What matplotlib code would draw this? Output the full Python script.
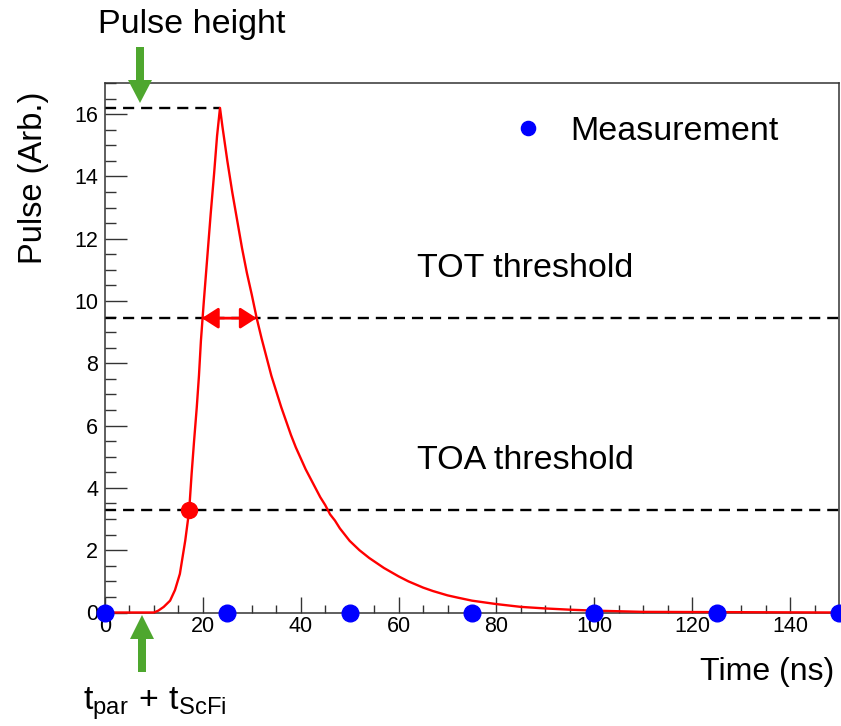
import matplotlib
matplotlib.use('Agg')
import matplotlib.pyplot as plt
from matplotlib.patches import Polygon

plt.rcParams['font.family'] = ['Liberation Sans', 'DejaVu Sans']
plt.rcParams['mathtext.fontset'] = 'custom'
plt.rcParams['mathtext.rm'] = 'Liberation Sans'
plt.rcParams['mathtext.it'] = 'Liberation Sans'
plt.rcParams['lines.scale_dashes'] = False

# pulse shape
t_pulse = [0, 10, 10.9, 12, 13.3, 14.3, 15.3, 16.4, 17.2, 17.7, 18.2, 18.75, 19.2,
           19.6, 20.2, 20.9, 21.6, 22.3, 22.9, 23.5, 24, 25, 26, 27, 28, 29, 30,
           31, 32, 33, 34, 35, 36, 37, 38, 39, 40, 41, 42, 43, 44, 45, 46, 47, 48,
           49, 50, 52, 54, 57, 60, 62, 65, 67, 70, 72, 75, 80, 85, 90, 95, 100,
           110, 150]
v_pulse = [0, 0, 0.06, 0.18, 0.38, 0.72, 1.24, 2.31, 3.27, 4.45, 5.5, 6.58, 7.6,
           8.72, 10.0, 11.4, 12.8, 14.1, 15.3, 16.2, 15.6, 14.5, 13.5, 12.6, 11.7,
           10.9, 10.2, 9.45, 8.8, 8.2, 7.6, 7.1, 6.6, 6.15, 5.7, 5.3, 4.95, 4.6,
           4.3, 4.0, 3.7, 3.45, 3.15, 2.95, 2.7, 2.5, 2.3, 2.0, 1.75, 1.43, 1.16,
           1.0, 0.8, 0.69, 0.55, 0.48, 0.38, 0.27, 0.18, 0.13, 0.09, 0.06, 0.02, 0]

t_meas = [0, 25, 50, 75, 100, 125, 150]
v_meas = [0, 0, 0, 0, 0, 0, 0]

peak_t, peak_v = 23.5, 16.2
tot_thr = 9.45
toa_thr = 3.3
tot_start, tot_end = 19.8, 31.0
toa_t = 17.2

W, H = 841, 726
fig = plt.figure(figsize=(W / 100, H / 100), dpi=100)
ax = fig.add_axes([105 / W, 1 - 612.5 / H, 734 / W, 529.5 / H])

frame = '#333333'
ax.set_xlim(0, 150)
ax.set_ylim(0, 17)
for s in ax.spines.values():
    s.set_color(frame)
    s.set_linewidth(1.1)

ax.set_xticks(range(0, 151, 20))
ax.set_xticks(range(0, 151, 5), minor=True)
ax.set_yticks(range(0, 17, 2))
ax.set_yticks([i * 0.5 for i in range(0, 35)], minor=True)
ax.tick_params(axis='x', which='major', direction='in', length=11.5, width=1, color=frame,
               labelsize=15.5, pad=2.5)
ax.tick_params(axis='x', which='minor', direction='in', length=5.8, width=1, color=frame)
ax.tick_params(axis='y', which='major', direction='in', length=15.8, width=1, color=frame,
               labelsize=15.5, pad=5)
ax.tick_params(axis='y', which='minor', direction='in', length=8, width=1, color=frame)

# thresholds and peak
dash = dict(color='black', lw=1.7, dashes=(8, 5))
ax.plot([0, peak_t], [peak_v, peak_v], **dash)
ax.axhline(tot_thr, **dash)
ax.axhline(toa_thr, **dash)

ax.plot(t_pulse, v_pulse, color='red', lw=1.7, clip_on=False, zorder=4)
ax.annotate('', xy=(tot_start, tot_thr), xytext=(tot_end, tot_thr),
            arrowprops=dict(arrowstyle='<|-|>,head_length=0.5,head_width=0.32',
                            color='red', lw=2, mutation_scale=20,
                            shrinkA=0, shrinkB=0), zorder=5)
ax.plot([toa_t], [toa_thr], 'o', color='red', ms=11.5, clip_on=False, zorder=6)
ax.plot(t_meas, v_meas, 'o', color='#0000ff', ms=12, ls='none', clip_on=False,
        zorder=6, label='Measurement')

leg = ax.legend(loc='center left', bbox_to_anchor=(511 / W, 1 - 131 / H),
                bbox_transform=fig.transFigure, frameon=False, fontsize=24.5,
                handlelength=1, handletextpad=0.74, borderpad=0, borderaxespad=0,
                markerscale=0.85)

fs = 24.5
fig.text(98 / W, 1 - 33 / H, 'Pulse height', fontsize=fs, va='baseline')
fig.text(417 / W, 1 - 277 / H, 'TOT threshold', fontsize=fs, va='baseline')
fig.text(417 / W, 1 - 469 / H, 'TOA threshold', fontsize=fs, va='baseline')
fig.text(834 / W, 1 - 680 / H, 'Time (ns)', fontsize=23, ha='right', va='baseline')
fig.text(34 / W, 1 - 92 / H, 'Pulse (Arb.)', fontsize=23.5, rotation=90,
         ha='center', va='top')
fig.text(83 / W, 1 - 710 / H,
         r'$\mathrm{t}_{\mathrm{par}}\,+\,\mathrm{t}_{\mathrm{ScFi}}$',
         fontsize=fs, va='baseline')


def down_arrow(x, y_tail, y_tip, y_head, shaft_w=8, head_w=24, color='#4ea72e'):
    # vertical arrow in pixel coords (y grows downward), drawn in figure coords
    pts = [(x - shaft_w / 2, y_tail), (x + shaft_w / 2, y_tail),
           (x + shaft_w / 2, y_head), (x + head_w / 2, y_head), (x, y_tip),
           (x - head_w / 2, y_head), (x - shaft_w / 2, y_head)]
    pts = [(px / W, 1 - py / H) for px, py in pts]
    fig.add_artist(Polygon(pts, closed=True, facecolor=color, edgecolor='none',
                           transform=fig.transFigure, zorder=10))


down_arrow(140, 47, 103, 80)
down_arrow(142, 672, 615, 639)

fig.savefig('out.png', dpi=100)
